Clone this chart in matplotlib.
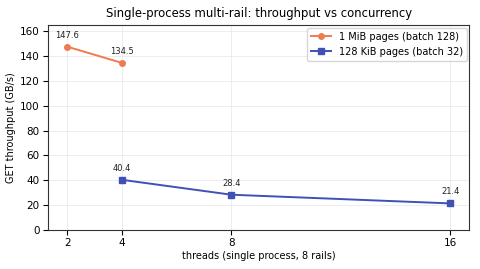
import matplotlib
matplotlib.use("Agg")
import matplotlib.pyplot as plt

threads_1m = [2, 4]
gbps_1m = [147.6, 134.5]
threads_128k = [4, 8, 16]
gbps_128k = [40.4, 28.4, 21.4]
xticks = [2, 4, 8, 16]

C_1M, C_128K = "#ee7b52", "#3f51b5"

fig, ax = plt.subplots(figsize=(4.8, 2.69), dpi=100)
ax.plot(threads_1m, gbps_1m, "-o", color=C_1M, lw=1.4, ms=4,
        label="1 MiB pages (batch 128)")
ax.plot(threads_128k, gbps_128k, "-s", color=C_128K, lw=1.4, ms=4,
        label="128 KiB pages (batch 32)")
for xs, ys in [(threads_1m, gbps_1m), (threads_128k, gbps_128k)]:
    for x, y in zip(xs, ys):
        ax.annotate(f"{y:.1f}", (x, y), xytext=(0, 5), textcoords="offset points",
                    ha="center", va="bottom", fontsize=6, color="#222222")

ax.set_xticks(xticks)
ax.set_xticklabels([str(t) for t in xticks])
ax.set_ylim(0, 165)
ax.set_yticks(range(0, 161, 20))
ax.tick_params(labelsize=7.5, pad=2.5)
ax.set_xlabel("threads (single process, 8 rails)", fontsize=7, labelpad=2)
ax.set_ylabel("GET throughput (GB/s)", fontsize=7, labelpad=3)
ax.set_title("Single-process multi-rail: throughput vs concurrency", fontsize=8.4)
ax.grid(True, ls="-", lw=0.5, color="#e6e6e6")
ax.set_axisbelow(True)
for s in ax.spines.values():
    s.set_color("#333333")
ax.legend(fontsize=7, loc="upper right", borderaxespad=0.3)
fig.subplots_adjust(left=0.1, right=0.978, top=0.907, bottom=0.145)
fig.savefig("out.png")
